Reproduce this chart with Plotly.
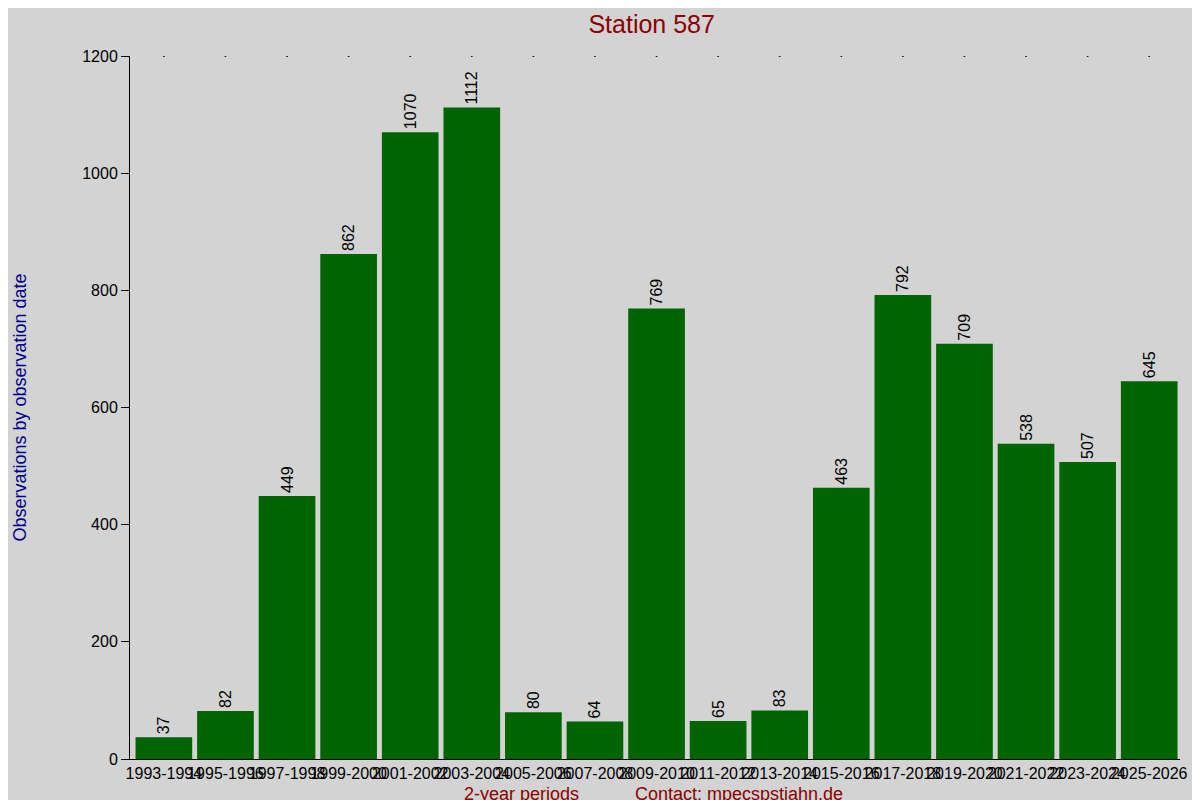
import plotly.graph_objects as go

periods = ["1993-1994", "1995-1996", "1997-1998", "1999-2000", "2001-2002", "2003-2004",
           "2005-2006", "2007-2008", "2009-2010", "2011-2012", "2013-2014", "2015-2016",
           "2017-2018", "2019-2020", "2021-2022", "2023-2024", "2025-2026"]
counts = [37, 82, 449, 862, 1070, 1112, 80, 64, 769, 65, 83, 463, 792, 709, 538, 507, 645]
y_ticks = [0, 200, 400, 600, 800, 1000, 1200]

fig = go.Figure()
fig.add_trace(go.Bar(
    x=periods, y=counts, marker_color="#006400", marker_line_width=0,
    text=[str(c) for c in counts], textposition="outside", textangle=-90,
    textfont=dict(size=16, color="black"), cliponaxis=False))
# small dots along the top edge
fig.add_trace(go.Scatter(
    x=periods, y=[1200] * len(periods), mode="markers",
    marker=dict(size=2, color="black"), hoverinfo="skip"))

# page body adds 8px, so figure is shrunk to fit the 1200x800 window
fig.update_layout(
    width=1192, height=792, showlegend=False,
    paper_bgcolor="#d3d3d3", plot_bgcolor="#d3d3d3",
    font=dict(family="Liberation Sans, Arial", size=17, color="black"),
    margin=dict(l=118, r=20, t=48, b=41),
    bargap=0.08,
    title=dict(text="Station 587", x=0.54, xanchor="center", y=0.99, yanchor="top",
               font=dict(size=25, color="#8b0000")),
    xaxis=dict(showline=True, linecolor="black", linewidth=1, ticks="", showgrid=False,
               tickangle=0, tickfont=dict(size=16), range=[-0.55, 16.5]),
    yaxis=dict(range=[0, 1200], tickvals=y_ticks, showline=True, linecolor="black",
               ticks="outside", ticklen=8, tickcolor="black", showgrid=False, zeroline=False,
               tickfont=dict(size=16),
               title=dict(text="Observations by observation date", standoff=50,
                          font=dict(size=18, color="#00008b"))),
    annotations=[
        dict(text="2-year periods", xref="paper", yref="paper", x=0.373, y=-0.05,
             xanchor="center", yanchor="middle", showarrow=False,
             font=dict(size=18, color="#8b0000")),
        dict(text="Contact: mpecspstjahn.de", xref="paper", yref="paper", x=0.58, y=-0.05,
             xanchor="center", yanchor="middle", showarrow=False,
             font=dict(size=18, color="#8b0000")),
    ],
)

fig.write_html("out.html")
